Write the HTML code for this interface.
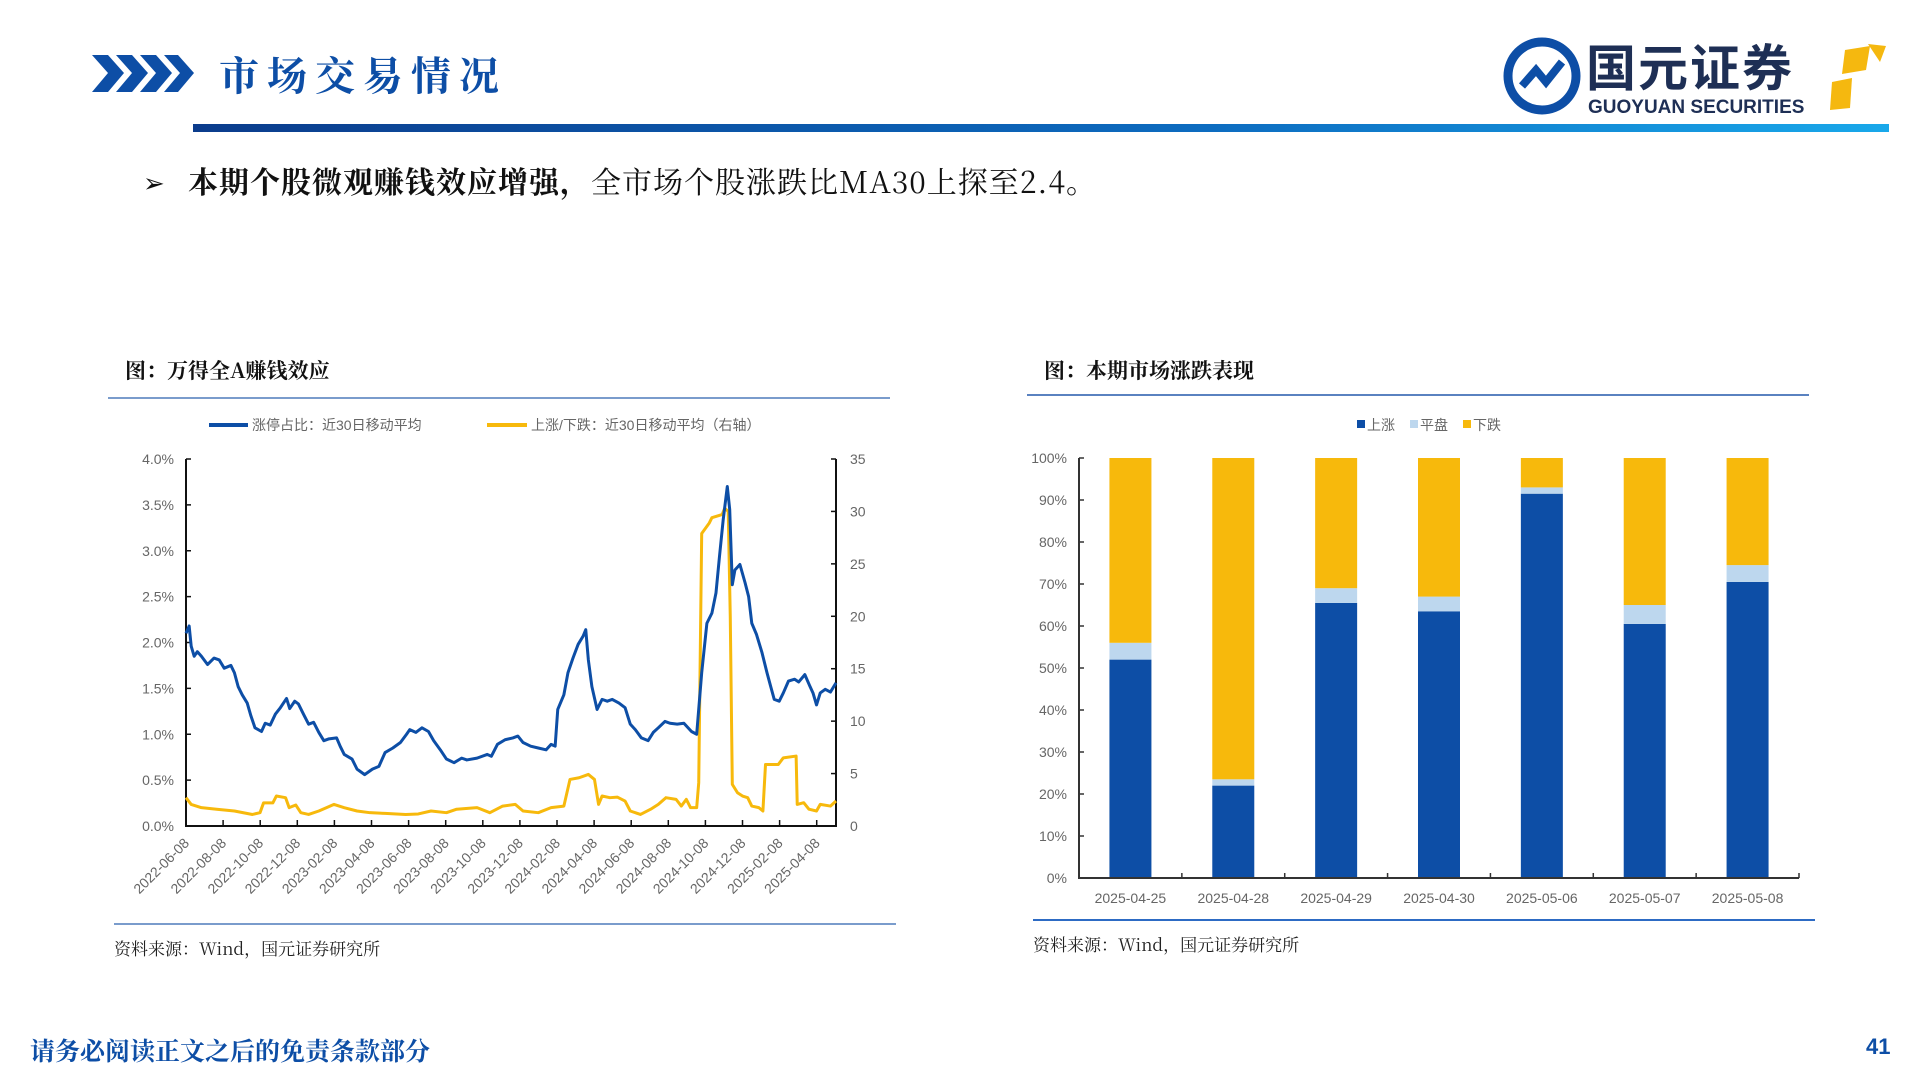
<!DOCTYPE html>
<html><head><meta charset="utf-8">
<style>
body{margin:0;width:1920px;height:1080px;background:#fff;overflow:hidden;position:relative;font-family:"Liberation Sans","Noto Sans CJK SC",sans-serif}
.abs{position:absolute}
</style></head>
<body>
<svg class="abs" style="left:0;top:0" width="1920" height="1080">
  <g fill="#0d4ea6">
    <polygon points="92,55 108,55 124,73 108,92 92,92 108,73"/>
    <polygon points="116,55 132,55 148,73 132,92 116,92 132,73"/>
    <polygon points="140,55 156,55 172,73 156,92 140,92 156,73"/>
    <polygon points="164,55 178,55 194,73 178,92 164,92 180,73"/>
  </g>
  <text x="219" y="90" font-size="40" font-weight="bold" fill="#0d4ea6" font-family="Noto Serif CJK SC, serif" letter-spacing="8">市场交易情况</text>
  <defs><linearGradient id="hb" x1="0" x2="1"><stop offset="0" stop-color="#0b3c8c"/><stop offset="0.6" stop-color="#0d6cc0"/><stop offset="1" stop-color="#19a8ea"/></linearGradient></defs>
  <rect x="193" y="124" width="1696" height="8" fill="url(#hb)"/>
  <g>
    <circle cx="1542" cy="76" r="34" fill="none" stroke="#0d4ea6" stroke-width="9"/>
    <path d="M1522,86 L1536,70 L1546,82 L1562,62" stroke="#0d4ea6" stroke-width="8" fill="none"/>
    <text x="1586" y="86" font-size="50" font-weight="bold" fill="#1e2f55" letter-spacing="2">国元证券</text>
    <text x="1588" y="113" font-size="19" font-weight="bold" fill="#1e2f55">GUOYUAN SECURITIES</text>
    <polygon points="1845,50 1870,46 1866,70 1842,74" fill="#f5b80f"/>
    <polygon points="1868,44 1886,46 1880,62" fill="#f5b80f"/>
    <polygon points="1832,82 1852,78 1850,108 1830,110" fill="#f5b80f"/>
  </g>
  <text x="143" y="192" font-size="26" fill="#111">➢</text>
  <text x="188" y="193" font-size="30" fill="#111" letter-spacing="1" font-family="Noto Serif CJK SC, serif"><tspan font-weight="bold">本期个股微观赚钱效应增强，</tspan>全市场个股涨跌比MA30上探至2.4。</text>

  <text x="125" y="378" font-size="21" font-weight="bold" fill="#111" font-family="Noto Serif CJK SC, serif">图：万得全A赚钱效应</text>
  <rect x="108" y="397" width="782" height="2" fill="#7a9ccc"/>
  <rect x="114" y="923" width="782" height="2" fill="#7a9ccc"/>
  <text x="114" y="955" font-size="17" fill="#222" font-family="Noto Serif CJK SC, serif">资料来源：Wind，国元证券研究所</text>

  <text x="1044" y="378" font-size="21" font-weight="bold" fill="#111" font-family="Noto Serif CJK SC, serif">图：本期市场涨跌表现</text>
  <rect x="1027" y="394" width="782" height="2" fill="#5a82c0"/>
  <rect x="1033" y="919" width="782" height="2" fill="#2d6bc4"/>
  <text x="1033" y="951" font-size="17" fill="#222" font-family="Noto Serif CJK SC, serif">资料来源：Wind，国元证券研究所</text>

  <text x="30" y="1060" font-size="25" font-weight="bold" fill="#0d4ea6" font-family="Noto Serif CJK SC, serif">请务必阅读正文之后的免责条款部分</text>
  <text x="1866" y="1054" font-size="22" font-weight="bold" fill="#0d4ea6">41</text>

  <g id="lc"></g>
  <g id="bc"></g>
</svg>
<script>
// ---- left chart data ----
const tickLabels = ["2022-06-08","2022-08-08","2022-10-08","2022-12-08","2023-02-08","2023-04-08","2023-06-08","2023-08-08","2023-10-08","2023-12-08","2024-02-08","2024-04-08","2024-06-08","2024-08-08","2024-10-08","2024-12-08","2025-02-08","2025-04-08"];
const tickMonths = [0,2,4,6,8,10,12,14,16,18,20,22,24,26,28,30,32,34];
const leftTicks = [0,0.5,1,1.5,2,2.5,3,3.5,4];
const rightTicks = [0,5,10,15,20,25,30,35];
const blueMonths = [0,0.17,0.28,0.44,0.61,0.83,1.16,1.51,1.79,2.06,2.42,2.61,2.81,3.03,3.30,3.50,3.72,4.07,4.27,4.54,4.82,5.09,5.42,5.59,5.86,6.06,6.33,6.61,6.88,7.16,7.43,7.71,8.12,8.31,8.53,8.95,9.22,9.63,10.05,10.40,10.73,11.15,11.56,11.89,12.06,12.39,12.72,13.07,13.35,13.71,14.04,14.45,14.86,15.14,15.69,16.24,16.46,16.79,17.20,17.62,17.89,18.17,18.58,18.99,19.41,19.68,19.90,20.04,20.37,20.59,20.86,21.14,21.41,21.55,21.69,21.88,22.16,22.43,22.71,22.98,23.34,23.67,23.95,24.22,24.55,24.91,25.19,25.46,25.82,26.09,26.48,26.84,27.25,27.53,27.80,28.08,28.35,28.57,28.76,28.96,29.18,29.31,29.45,29.59,29.86,30.14,30.33,30.50,30.75,31.05,31.32,31.52,31.71,31.98,32.20,32.48,32.81,33.03,33.36,33.64,33.80,33.99,34.19,34.46,34.74,35.04];
const blueValues = [2.10,2.18,1.96,1.85,1.90,1.85,1.76,1.83,1.81,1.72,1.75,1.67,1.52,1.43,1.34,1.20,1.07,1.03,1.12,1.10,1.22,1.29,1.39,1.28,1.36,1.33,1.22,1.11,1.13,1.02,0.93,0.95,0.96,0.87,0.78,0.73,0.62,0.56,0.62,0.65,0.80,0.85,0.91,1.00,1.05,1.02,1.07,1.03,0.93,0.83,0.73,0.69,0.74,0.72,0.74,0.78,0.76,0.89,0.94,0.96,0.98,0.91,0.87,0.85,0.83,0.89,0.87,1.27,1.43,1.67,1.83,1.98,2.07,2.14,1.81,1.52,1.27,1.38,1.36,1.38,1.34,1.29,1.11,1.05,0.96,0.93,1.02,1.07,1.14,1.12,1.11,1.12,1.03,1.00,1.67,2.21,2.32,2.54,2.94,3.34,3.70,3.45,2.63,2.79,2.85,2.65,2.50,2.21,2.09,1.89,1.67,1.52,1.38,1.36,1.45,1.58,1.60,1.57,1.65,1.52,1.45,1.32,1.45,1.49,1.46,1.56];
const yellowMonths = [0,0.28,0.83,1.65,2.61,3.58,3.99,4.18,4.68,4.87,5.37,5.56,5.92,6.19,6.61,7.16,7.98,8.53,9.22,9.91,10.73,11.84,12.52,13.21,14.04,14.59,15.69,16.38,17.07,17.75,18.17,18.99,19.68,20.37,20.70,21.19,21.69,22.02,22.24,22.43,22.85,23.26,23.67,23.95,24.50,25.05,25.46,25.87,26.42,26.70,26.97,27.20,27.53,27.64,27.80,28.21,28.35,28.90,29.04,29.23,29.34,29.45,29.73,30.00,30.28,30.50,30.88,31.10,31.24,31.93,32.20,32.89,32.95,33.30,33.58,33.99,34.19,34.74,35.04];
const yellowValues = [2.7,2.06,1.75,1.6,1.43,1.1,1.27,2.2,2.2,2.86,2.7,1.75,2.0,1.27,1.1,1.43,2.06,1.75,1.43,1.27,1.2,1.1,1.15,1.43,1.27,1.6,1.75,1.27,1.9,2.06,1.43,1.27,1.75,1.9,4.44,4.6,4.92,4.44,2.06,2.86,2.7,2.75,2.38,1.43,1.1,1.6,2.06,2.7,2.54,1.9,2.54,1.75,1.75,4.13,27.9,28.9,29.4,29.7,30.3,30.0,20,3.97,3.17,2.86,2.7,1.9,1.75,1.43,5.87,5.87,6.5,6.67,2.06,2.22,1.6,1.43,2.06,1.9,2.38];
// ---- right chart data ----
const barDates = ["2025-04-25","2025-04-28","2025-04-29","2025-04-30","2025-05-06","2025-05-07","2025-05-08"];
const upPct = [52,22,65.5,63.5,91.5,60.5,70.5];
const flatPct = [4,1.5,3.5,3.5,1.5,4.5,4];
const downPct = [44,76.5,31,33,7,35,25.5];
const barTicks = [0,10,20,30,40,50,60,70,80,90,100];

const NS="http://www.w3.org/2000/svg";
function mk(tag,attrs,parent){const e=document.createElementNS(NS,tag);for(const k in attrs)e.setAttribute(k,attrs[k]);parent.appendChild(e);return e;}

// left chart
const lc=document.getElementById('lc');
const L={x0:186,x1:836,y0:826,y1:459,mMax:35.04};
const xM=m=>L.x0+(L.x1-L.x0)*m/L.mMax;
const yL=v=>L.y0-(L.y0-L.y1)*v/4;
const yR=v=>L.y0-(L.y0-L.y1)*v/35;
let ax=mk('path',{d:`M${L.x0},${L.y1} V${L.y0} H${L.x1} V${L.y1}`,stroke:'#111','stroke-width':2,fill:'none'},lc);


leftTicks.forEach(v=>{
  const t=mk('line',{x1:L.x0,x2:L.x0+5,y1:yL(v),y2:yL(v),stroke:'#111','stroke-width':1.5},lc);
  
  
  const tx=mk('text',{x:L.x0-12,y:yL(v)+5,'font-size':14,fill:'#666','text-anchor':'end'},lc);
  tx.textContent=v.toFixed(1)+'%';
  
  
});
rightTicks.forEach(v=>{
  const t=mk('line',{x1:L.x1-5,x2:L.x1,y1:yR(v),y2:yR(v),stroke:'#111','stroke-width':1.5},lc);
  
  
  const tx=mk('text',{x:L.x1+14,y:yR(v)+5,'font-size':14,fill:'#666'},lc);
  tx.textContent=v;
  
  
});
tickMonths.forEach((m,i)=>{
  const x=xM(m);
  const t=mk('line',{x1:x,x2:x,y1:L.y0,y2:L.y0-6,stroke:'#111','stroke-width':1.5},lc);
  
  
  const tx=mk('text',{x:x+4,y:L.y0+18,'font-size':14,fill:'#666','text-anchor':'end',transform:`rotate(-45 ${x+4} ${L.y0+18})`},lc);
  tx.textContent=tickLabels[i];
  
  
});
const yp=mk('polyline',{points:yellowMonths.map((m,i)=>xM(m)+','+yR(yellowValues[i])).join(' '),fill:'none',stroke:'#f7b90c','stroke-width':3,'stroke-linejoin':'round'},lc);


const bp=mk('polyline',{points:blueMonths.map((m,i)=>xM(m)+','+yL(blueValues[i])).join(' '),fill:'none',stroke:'#0d4ea6','stroke-width':3,'stroke-linejoin':'round'},lc);


// left legend
let lg=mk('g',{},lc);


mk('line',{x1:209,x2:248,y1:425,y2:425,stroke:'#0d4ea6','stroke-width':4},lg);
let lt=mk('text',{x:252,y:430,'font-size':14,fill:'#666'},lg);lt.textContent='涨停占比：近30日移动平均';
mk('line',{x1:487,x2:527,y1:425,y2:425,stroke:'#f7b90c','stroke-width':4},lg);
lt=mk('text',{x:531,y:430,'font-size':14,fill:'#666'},lg);lt.textContent='上涨/下跌：近30日移动平均（右轴）';

// right chart
const bc=document.getElementById('bc');
const B={x0:1079,x1:1799,y0:878,y1:458};
const cw=(B.x1-B.x0)/barDates.length;
const yB=v=>B.y0-(B.y0-B.y1)*v/100;
barTicks.forEach(v=>{
  const t=mk('line',{x1:B.x0,x2:B.x0+5,y1:yB(v),y2:yB(v),stroke:'#333','stroke-width':1.5},bc);
  
  
  const tx=mk('text',{x:B.x0-12,y:yB(v)+5,'font-size':14,fill:'#666','text-anchor':'end'},bc);
  tx.textContent=v+'%';
  
  
});
barDates.forEach((d,i)=>{
  const cx=B.x0+cw*(i+0.5), bw=42, x=cx-bw/2;
  const segs=[[0,upPct[i],'#0d4ea6','bar-up'],[upPct[i],flatPct[i],'#bdd7ee','bar-flat'],[upPct[i]+flatPct[i],downPct[i],'#f7b90c','bar-down']];
  segs.forEach(s=>{
    const r=mk('rect',{x:x,y:yB(s[0]+s[1]),width:bw,height:yB(s[0])-yB(s[0]+s[1]),fill:s[2]},bc);
    
    
  });
  const tx=mk('text',{x:cx,y:B.y0+25,'font-size':14,fill:'#666','text-anchor':'middle'},bc);
  tx.textContent=d;
  
  
  const tk=mk('line',{x1:B.x0+cw*(i+1),x2:B.x0+cw*(i+1),y1:B.y0,y2:B.y0-5,stroke:'#333','stroke-width':1.5},bc);
  
  
});
ax=mk('path',{d:`M${B.x0},${B.y1} V${B.y0} H${B.x1}`,stroke:'#333','stroke-width':2,fill:'none'},bc);


lg=mk('g',{},bc);


[['上涨','#0d4ea6',1357],['平盘','#bdd7ee',1410],['下跌','#f7b90c',1463]].forEach(e=>{
  mk('rect',{x:e[2],y:420,width:8,height:8,fill:e[1]},lg);
  const t=mk('text',{x:e[2]+10,y:430,'font-size':14,fill:'#666'},lg);t.textContent=e[0];
});
</script>
</body></html>
